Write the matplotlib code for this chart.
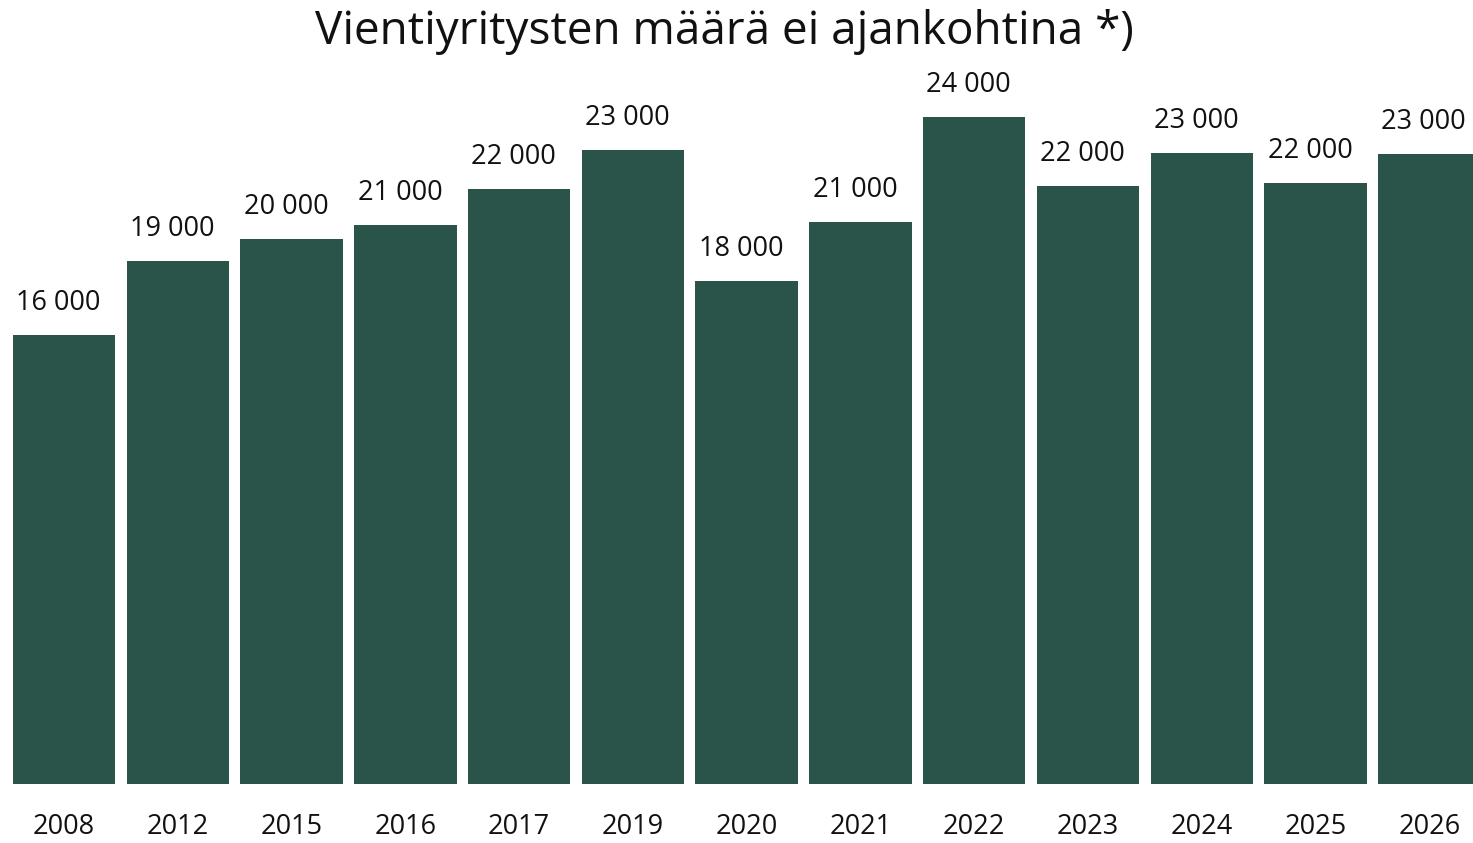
import matplotlib.pyplot as plt

# Data (bar heights in thousands, labels as printed)
years = ["2008", "2012", "2015", "2016", "2017", "2019", "2020",
         "2021", "2022", "2023", "2024", "2025", "2026"]
heights = [16.15, 18.8, 19.6, 20.1, 21.4, 22.8, 18.1,
           20.2, 24.0, 21.5, 22.7, 21.6, 22.65]
labels = ["16 000", "19 000", "20 000", "21 000", "22 000", "23 000", "18 000",
          "21 000", "24 000", "22 000", "23 000", "22 000", "23 000"]

plt.rcParams['font.family'] = ['Open Sans', 'DejaVu Sans']

fig = plt.figure(figsize=(14.73, 8.43), dpi=100)
ax = fig.add_axes([0, 1 - 784 / 843, 1, 784 / 843])

x = list(range(len(years)))
bars = ax.bar(x, heights, width=0.9, color="#2a5449")

for b, lab in zip(bars, labels):
    ax.annotate(lab, (b.get_x() + b.get_width() / 2, b.get_height()),
                xytext=(-4, 13), textcoords="offset points",
                ha="center", va="bottom", fontsize=19.5, color="#111111")

ax.set_xlim(-0.564, 12.385)
ax.set_ylim(0, 28.2)
ax.set_xticks(x)
ax.set_xticklabels(years, fontsize=19.5, color="#111111")
ax.tick_params(axis="x", length=0, pad=21)
ax.set_yticks([])
for s in ax.spines.values():
    s.set_visible(False)

fig.text(0.492, 0.962, "Vientiyritysten määrä ei ajankohtina *)",
         ha="center", va="center", fontsize=33, color="#111111")

fig.savefig("out.png", dpi=100)
